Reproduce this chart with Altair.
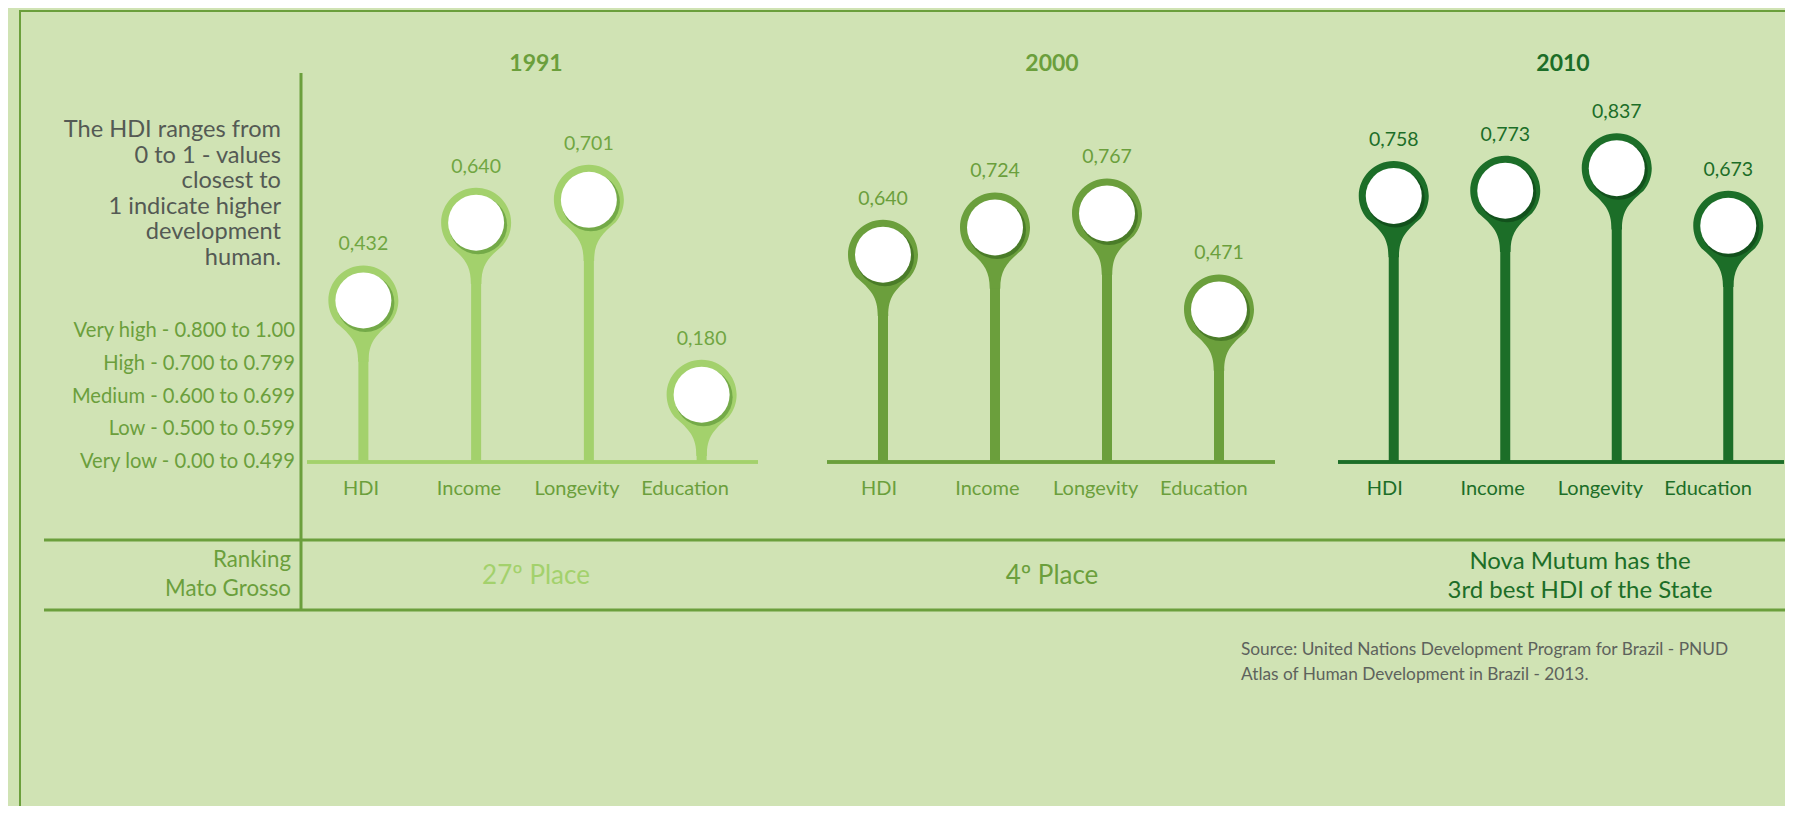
import altair as alt
import pandas as pd

# ---------------- data ----------------
years = ["1991", "2000", "2010"]
categories = ["HDI", "Income", "Longevity", "Education"]
values_1991 = [0.432, 0.640, 0.701, 0.180]
values_2000 = [0.640, 0.724, 0.767, 0.471]
values_2010 = [0.758, 0.773, 0.837, 0.673]
rankings = [["27º Place"], ["4º Place"], ["Nova Mutum has the", "3rd best HDI of the State"]]
description = ["The HDI ranges from", "0 to 1 - values", "closest to",
               "1 indicate higher", "development", "human."]
legend_lines = ["Very high - 0.800 to 1.00", "High - 0.700 to 0.799",
                "Medium - 0.600 to 0.699", "Low - 0.500 to 0.599",
                "Very low - 0.00 to 0.499"]
ranking_label = ["Ranking", "Mato Grosso"]
source_lines = ["Source: United Nations Development Program for Brazil - PNUD",
                "Atlas of Human Development in Brazil - 2013."]

# ---------------- style / layout ----------------
FONT = "Lato"
BG = "#d0e3b4"
FRAME = "#6b9f3c"
GREY = "#545a54"
LIGHT = "#a3d16c"
MED = "#6b9f3c"
DARK = "#1c6e28"
W, HT = 1777, 798
BASE_Y = 454
panel_style = {
    "1991": dict(pin=LIGHT, shadow="#4f8a2c", text=MED, vlabel="#70a642", title=MED, rank=LIGHT,
                 x0=299, x1=750, lx0=299, lx1=731, px_per_unit=374, tx=528, rx=528),
    "2000": dict(pin=MED, shadow="#2f5e18", text=MED, vlabel=MED, title=MED, rank=MED,
                 x0=819, x1=1267, lx0=817, lx1=1250, px_per_unit=324, tx=1044, rx=1044),
    "2010": dict(pin=DARK, shadow="#0b3a12", text=DARK, vlabel=DARK, title=DARK, rank=DARK,
                 x0=1330, x1=1776, lx0=1323, lx1=1754, px_per_unit=351, tx=1555, rx=1572),
}
PIN_PATH = ("M-0.766,0.643 C-0.917,0.463 -1,0.235 -1,0 "
            "C-1,-0.552 -0.552,-1 0,-1 C0.552,-1 1,-0.552 1,0 "
            "C1,0.235 0.917,0.463 0.766,0.643 "
            "C0.35,1.0 0.15,1.2 0.15,1.75 L-0.15,1.75 "
            "C-0.15,1.2 -0.35,1.0 -0.766,0.643 Z")

one = pd.DataFrame({"k": [0]})


def hline(y, x0, x1, color=FRAME, w=3):
    return alt.Chart(one).mark_rule(color=color, strokeWidth=w).encode(
        x=alt.value(x0), x2=alt.value(x1), y=alt.value(y))


def vline(x, y0, y1, color=FRAME, w=3):
    return alt.Chart(one).mark_rule(color=color, strokeWidth=w).encode(
        x=alt.value(x), y=alt.value(y0), y2=alt.value(y1))


def text_lines(lines, x, y, size, color, align="right", lh=None, weight="normal"):
    lh = lh if lh else size * 1.2
    out = []
    for i, line in enumerate(lines):
        out.append(alt.Chart(one).mark_text(
            text=line, align=align, baseline="alphabetic",
            font=FONT, fontSize=size, color=color, fontWeight=weight
        ).encode(x=alt.value(x), y=alt.value(y + i * lh)))
    return out


annotations = [
    vline(12, 2, HT, w=2),
    hline(3, 12, W, w=2),
    vline(293, 65, 602),
    hline(532, 36, W),
    hline(602, 36, W),
    *text_lines(description, 273, 129, 23.6, GREY, lh=25.6),
    *text_lines(legend_lines, 287, 329, 20.2, MED, lh=32.75),
    *text_lines(ranking_label, 283, 559, 22.3, MED, lh=29),
    *text_lines(source_lines, 1233, 647, 17.3, "#5d625c", align="left", lh=25),
]


def panel(year, values, rank_lines):
    st = panel_style[year]
    df = pd.DataFrame({
        "cat": categories,
        "value": values,
        "zero": [0.0] * len(values),
        "label": [f"{v:.3f}".replace(".", ",") for v in values],
    })
    yscale = alt.Scale(domain=[0, 1], range=[BASE_Y, BASE_Y - st["px_per_unit"]],
                       nice=False, zero=True)
    xenc = alt.X("cat:N", sort=categories, axis=None,
                 scale=alt.Scale(type="point", padding=0.5, range=[st["x0"], st["x1"]]))
    yenc = alt.Y("value:Q", axis=None, scale=yscale)
    base = alt.Chart(df)
    baseline = base.mark_rule(color=st["pin"], strokeWidth=3).encode(
        x=alt.value(st["x0"]), x2=alt.value(st["x1"]),
        y=alt.Y("zero:Q", axis=None, scale=yscale))
    stems = base.mark_rule(color=st["pin"], strokeWidth=10).encode(
        x=xenc, y=yenc, y2="zero:Q")
    heads = base.mark_point(shape=PIN_PATH, size=4900, filled=True,
                            fill=st["pin"], opacity=1, strokeWidth=0).encode(x=xenc, y=yenc)
    shadow = base.mark_point(shape="circle", size=58 * 58, filled=True,
                             color=st["shadow"], opacity=0.55, strokeWidth=0,
                             xOffset=2, yOffset=2.5).encode(x=xenc, y=yenc)
    white = base.mark_point(shape="circle", size=56 * 56, filled=True,
                            color="white", opacity=1, strokeWidth=0).encode(x=xenc, y=yenc)
    vlabels = base.mark_text(dy=-56, baseline="middle", font=FONT, fontSize=19.5,
                             color=st["vlabel"]).encode(x=xenc, y=yenc, text="label:N")
    group = alt.layer(baseline, stems, heads, shadow, white, vlabels)

    lxenc = alt.X("cat:N", sort=categories, axis=None,
                  scale=alt.Scale(type="point", padding=0.5, range=[st["lx0"], st["lx1"]]))
    clabels = base.mark_text(baseline="alphabetic", font=FONT, fontSize=20,
                             color=st["text"]).encode(x=lxenc, y=alt.value(487), text="cat:N")

    extras = text_lines([year], st["tx"], 63, 23, st["title"], align="center", weight="bold")
    if len(rank_lines) == 1:
        extras += text_lines(rank_lines, st["rx"], 576, 26, st["rank"], align="center")
    else:
        extras += text_lines(rank_lines, st["rx"], 561, 24, st["rank"], align="center", lh=28.5)
    return extras, group, clabels


e1, g1, c1 = panel("1991", values_1991, rankings[0])
e2, g2, c2 = panel("2000", values_2000, rankings[1])
e3, g3, c3 = panel("2010", values_2010, rankings[2])

chart = alt.layer(*annotations, *e1, *e2, *e3, g1, g2, g3, c1, c2, c3).resolve_scale(
    x="independent", y="independent"
).properties(
    width=W, height=HT, padding=0,
    autosize=alt.AutoSizeParams(type="none"),
).configure(background=BG).configure_view(strokeWidth=0)

chart.save("out.html", embed_options={"renderer": "svg", "actions": False})
